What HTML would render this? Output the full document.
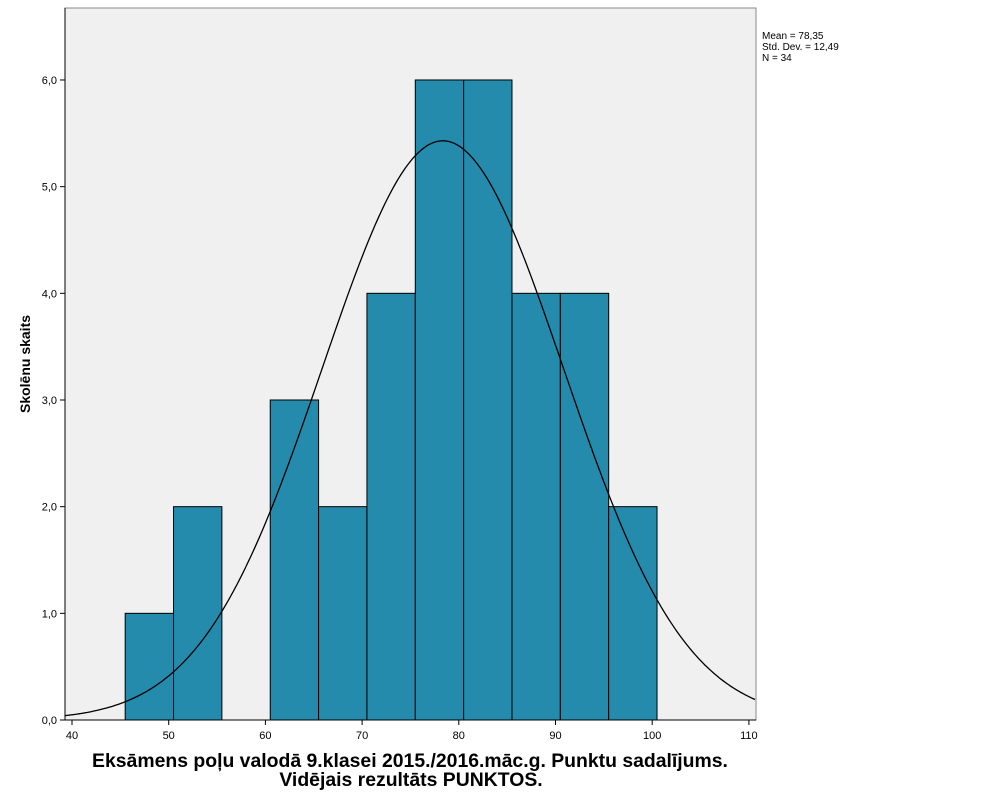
<!DOCTYPE html>
<html><head><meta charset="utf-8"><style>
body{margin:0;background:#fff}
svg{display:block;font-family:"Liberation Sans",Arial,sans-serif}
</style></head><body>
<svg id="s" width="1008" height="806" xmlns="http://www.w3.org/2000/svg">
<rect x="65" y="8" width="691" height="712" fill="#f0f0f0" stroke="#888" stroke-width="1"/>
<g id="bars" fill="#248bad" stroke="#000" stroke-width="1"></g>
<path id="curve" fill="none" stroke="#000" stroke-width="1.3"/>
<line x1="65" y1="720" x2="756" y2="720" stroke="#000"/>
<line x1="65" y1="8" x2="65" y2="720" stroke="#000"/>
<g id="ticks" font-size="11" fill="#000"></g>
<text x="30" y="364" font-size="14" font-weight="bold" text-anchor="middle" transform="rotate(-90 30 364)">Skolēnu skaits</text>
<text x="410" y="767" font-size="19.4" font-weight="bold" text-anchor="middle">Eksāmens poļu valodā 9.klasei 2015./2016.māc.g. Punktu sadalījums.</text>
<text x="411" y="786" font-size="19.4" font-weight="bold" text-anchor="middle">Vidējais rezultāts PUNKTOS.</text>
<text x="762" y="39" font-size="10">Mean = 78,35</text>
<text x="762" y="50" font-size="10">Std. Dev. = 12,49</text>
<text x="762" y="61" font-size="10">N = 34</text>
</svg>
<script>
const S=9.67, X=v=>72+(v-40)*S, Y=v=>720-v*106.67;
const bars=[[45.5,1],[50.5,2],[60.5,3],[65.5,2],[70.5,4],[75.5,6],[80.5,6],[85.5,4],[90.5,4],[95.5,2]];
let h='';for(const[a,c]of bars){h+=`<rect x="${X(a)}" y="${Y(c)}" width="${5*S}" height="${c*106.67}"/>`;}
document.getElementById('bars').innerHTML=h;
let d='';for(let px=65;px<=756;px+=2){const v=40+(px-72)/S;const f=170/(12.49*Math.sqrt(2*Math.PI))*Math.exp(-((v-78.35)**2)/(2*12.49*12.49));d+=(d?'L':'M')+px+','+Y(f).toFixed(1);}
document.getElementById('curve').setAttribute('d',d);
let t='';for(let i=0;i<=6;i++){const y=Y(i);t+=`<line x1="60" y1="${y}" x2="65" y2="${y}" stroke="#000"/><text x="57" y="${y+4}" text-anchor="end">${i},0</text>`;}
for(let v=40;v<=110;v+=10){const x=X(v);t+=`<line x1="${x}" y1="720" x2="${x}" y2="725" stroke="#000"/><text x="${x}" y="739" text-anchor="middle">${v}</text>`;}
document.getElementById('ticks').innerHTML=t;
</script>
</body></html>
